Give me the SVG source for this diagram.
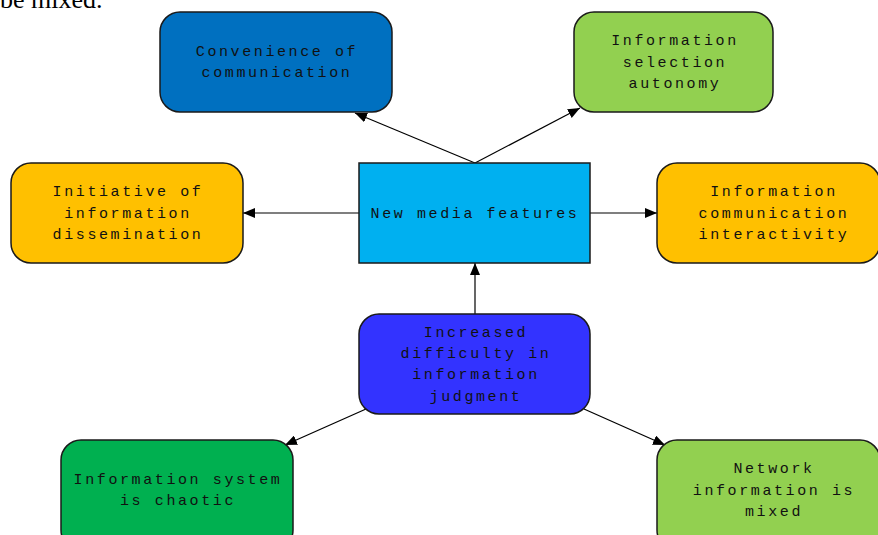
<svg xmlns="http://www.w3.org/2000/svg" width="878" height="535" viewBox="0 0 878 535">
<defs>
<marker id="ah" viewBox="0 0 12 10" refX="12" refY="5" markerWidth="12" markerHeight="10" markerUnits="userSpaceOnUse" orient="auto">
<path d="M0,0 L12,5 L0,10 z" fill="#000"/>
</marker>
<style>
.box{stroke:#1a1a1a;stroke-width:1.5}
.t{font-family:"Liberation Mono","DejaVu Sans Mono",monospace;font-size:15px;letter-spacing:2.6px;fill:#111;text-anchor:middle}
.c{stroke:#000;stroke-width:1.2;fill:none;marker-end:url(#ah)}
</style>
</defs>
<rect width="878" height="535" fill="#fff"/>
<text x="0" y="8" font-family="Liberation Serif, serif" font-size="26" fill="#000">be mixed.</text>
<g id="connectors">
<line class="c" x1="475" y1="163" x2="355" y2="113"/>
<line class="c" x1="475" y1="163" x2="580" y2="108"/>
<line class="c" x1="359" y1="213" x2="243" y2="213"/>
<line class="c" x1="590" y1="213" x2="657" y2="213"/>
<line class="c" x1="475" y1="314" x2="475" y2="263"/>
<line class="c" x1="366" y1="409" x2="285" y2="445"/>
<line class="c" x1="584" y1="409" x2="665" y2="445"/>
</g>
<g id="n1"><rect class="box" x="160" y="12" width="232" height="100" rx="20" fill="#0070C0"/>
<text class="t" x="277" y="56">Convenience of</text><text class="t" x="277" y="77">communication</text></g>
<g id="n2"><rect class="box" x="574" y="12" width="199" height="100" rx="20" fill="#92D050"/>
<text class="t" x="675" y="45">Information</text><text class="t" x="675" y="67">selection</text><text class="t" x="675" y="88">autonomy</text></g>
<g id="n3"><rect class="box" x="11" y="163" width="232" height="100" rx="20" fill="#FFC000"/>
<text class="t" x="128" y="196">Initiative of</text><text class="t" x="128" y="218">information</text><text class="t" x="128" y="239">dissemination</text></g>
<g id="n4"><rect class="box" x="359" y="163" width="231" height="100" fill="#00B0F0"/>
<text class="t" x="475" y="218">New media features</text></g>
<g id="n5"><rect class="box" x="657" y="163" width="223" height="100" rx="20" fill="#FFC000"/>
<text class="t" x="774" y="196">Information</text><text class="t" x="774" y="218">communication</text><text class="t" x="774" y="239">interactivity</text></g>
<g id="n6"><rect class="box" x="359" y="314" width="231" height="100" rx="20" fill="#3333FF"/>
<text class="t" x="476" y="337">Increased</text><text class="t" x="476" y="358">difficulty in</text><text class="t" x="476" y="379">information</text><text class="t" x="476" y="401">judgment</text></g>
<g id="n7"><rect class="box" x="61" y="440" width="232" height="110" rx="20" fill="#00B050"/>
<text class="t" x="178" y="484">Information system</text><text class="t" x="178" y="505">is chaotic</text></g>
<g id="n8"><rect class="box" x="657" y="440" width="223" height="110" rx="20" fill="#92D050"/>
<text class="t" x="774" y="473">Network</text><text class="t" x="774" y="495">information is</text><text class="t" x="774" y="516">mixed</text></g>
</svg>
